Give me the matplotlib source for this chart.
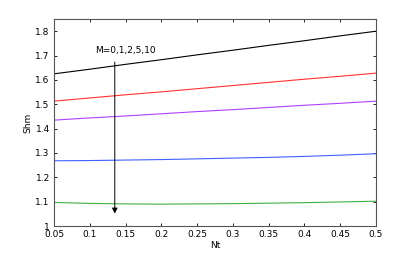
import matplotlib
matplotlib.use("Agg")
import matplotlib.pyplot as plt

Nt = [0.05, 0.1, 0.15, 0.2, 0.25, 0.3, 0.35, 0.4, 0.45, 0.5]
shm_m0 = [1.625, 1.644, 1.664, 1.683, 1.703, 1.722, 1.742, 1.761, 1.781, 1.800]
shm_m1 = [1.513, 1.526, 1.539, 1.551, 1.564, 1.577, 1.590, 1.603, 1.615, 1.628]
shm_m2 = [1.435, 1.444, 1.452, 1.461, 1.470, 1.478, 1.487, 1.496, 1.504, 1.513]
shm_m5 = [1.268, 1.269, 1.271, 1.273, 1.276, 1.279, 1.282, 1.286, 1.291, 1.297]
shm_m10 = [1.097, 1.093, 1.091, 1.090, 1.091, 1.092, 1.094, 1.096, 1.099, 1.102]

series = [shm_m0, shm_m1, shm_m2, shm_m5, shm_m10]
colors = ['black', '#ff3030', '#b040ff', '#4060ff', '#40b040']

fig = plt.figure(figsize=(4.15, 2.54), dpi=100)
ax = fig.add_axes([0.130, 0.110, 0.776, 0.815])

for s, c in zip(series, colors):
  ax.plot(Nt, s, color=c, lw=0.8)

ax.annotate('', xy=(0.135, 1.04), xytext=(0.135, 1.685),
            arrowprops=dict(arrowstyle='-|>', color='black', lw=0.7, mutation_scale=8))
ax.text(0.107, 1.722, 'M=0,1,2,5,10', fontsize=6.5, va='center', ha='left')

ax.set_xlim(0.05, 0.5)
ax.set_ylim(1, 1.85)
ax.set_xticks(Nt)
ax.set_xticklabels(['0.05', '0.1', '0.15', '0.2', '0.25', '0.3', '0.35', '0.4', '0.45', '0.5'])
ax.set_yticks([1, 1.1, 1.2, 1.3, 1.4, 1.5, 1.6, 1.7, 1.8])
ax.set_yticklabels(['1', '1.1', '1.2', '1.3', '1.4', '1.5', '1.6', '1.7', '1.8'])
ax.tick_params(direction='in', length=2.5, width=0.6, labelsize=6.5, top=True, right=True)
ax.tick_params(axis='x', pad=3)
ax.tick_params(axis='y', pad=3)
for sp in ax.spines.values():
  sp.set_linewidth(0.8)
  sp.set_color('#555555')
ax.set_xlabel('Nt', fontsize=6.5, labelpad=1)
ax.set_ylabel('Shm', fontsize=6.5, labelpad=2)

fig.savefig('out.png', dpi=100)
